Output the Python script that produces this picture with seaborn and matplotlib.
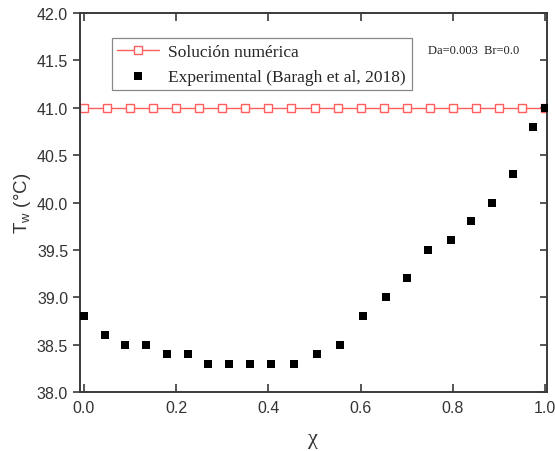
import matplotlib
matplotlib.use("Agg")
import matplotlib.pyplot as plt
import seaborn as sns
import pandas as pd

# Numerical solution along the wall
chi_num = [0.00, 0.05, 0.10, 0.15, 0.20, 0.25, 0.30, 0.35, 0.40, 0.45, 0.50,
           0.55, 0.60, 0.65, 0.70, 0.75, 0.80, 0.85, 0.90, 0.95, 1.00]
tw_num = [41.0] * len(chi_num)

# Experimental wall temperatures (Baragh et al, 2018)
chi_exp = [0.000, 0.045, 0.090, 0.135, 0.180, 0.225, 0.270, 0.315, 0.360, 0.405,
           0.455, 0.505, 0.555, 0.605, 0.655, 0.700, 0.745, 0.795, 0.840, 0.885,
           0.930, 0.973, 1.000]
tw_exp = [38.8, 38.6, 38.5, 38.5, 38.4, 38.4, 38.3, 38.3, 38.3, 38.3,
          38.3, 38.4, 38.5, 38.8, 39.0, 39.2, 39.5, 39.6, 39.8, 40.0,
          40.3, 40.8, 41.0]

x_ticks = [0.0, 0.2, 0.4, 0.6, 0.8, 1.0]
y_ticks = [38.0, 38.5, 39.0, 39.5, 40.0, 40.5, 41.0, 41.5, 42.0]

sns.set_style("ticks")
plt.rcParams["font.family"] = ["Liberation Sans", "DejaVu Sans"]

df_num = pd.DataFrame({"chi": chi_num, "tw": tw_num})
df_exp = pd.DataFrame({"chi": chi_exp, "tw": tw_exp})

fig = plt.figure(figsize=(5.55, 4.52), dpi=100)
ax = fig.add_axes([0.144, 0.1305, 0.8415, 0.8385])

red = "#ff5c5c"
sns.lineplot(data=df_num, x="chi", y="tw", ax=ax, color=red, linewidth=1.0,
             marker="s", markersize=5.4, markerfacecolor="white",
             markeredgecolor=red, markeredgewidth=1.0,
             label="Solución numérica")
sns.scatterplot(data=df_exp, x="chi", y="tw", ax=ax, color="black",
                marker="s", s=36, edgecolor="black", linewidth=0,
                label="Experimental (Baragh et al, 2018)", zorder=3)

ax.set_xlim(-0.0087, 1.004)
ax.set_ylim(38.0, 42.0)
ax.set_xticks(x_ticks)
ax.set_xticklabels([f"{t:.1f}" for t in x_ticks])
ax.set_yticks(y_ticks)
ax.set_yticklabels([f"{t:.1f}" for t in y_ticks])

spine_col = "#3a3a3a"
for s in ax.spines.values():
    s.set_visible(True)
    s.set_color(spine_col)
    s.set_linewidth(1.4)

ax.tick_params(axis="x", direction="in", top=True, bottom=True, length=6,
               width=1.2, color=spine_col, labelsize=11.5, pad=6,
               labelcolor="#333333")
ax.tick_params(axis="y", which="both", left=True, right=False, direction="out",
               length=5, width=1.2, color=spine_col, labelsize=11.5,
               labelcolor="#333333")

# Inward ticks on the right spine
sec = ax.secondary_yaxis("right")
sec.set_yticks(y_ticks)
sec.tick_params(direction="in", length=5, width=1.2, color=spine_col,
                labelright=False)
sec.spines["right"].set_visible(False)

ax.set_xlabel("χ", family=["Liberation Serif", "DejaVu Serif"], fontsize=16,
              labelpad=10, color="#333333")
ax.set_ylabel("T$_\\mathregular{w}$ (°C)", fontsize=13.5, color="#333333",
              labelpad=3)

leg = ax.legend(loc="upper left", bbox_to_anchor=(0.068, 0.934),
                prop={"family": "Liberation Serif", "size": 12.5},
                frameon=True, fancybox=False, framealpha=1,
                edgecolor="#888888", handlelength=2.4, borderpad=0.32,
                labelspacing=0.5, handletextpad=0.55, borderaxespad=0)
leg.get_frame().set_linewidth(0.9)

ax.text(0.745, 0.895, "Da=0.003  Br=0.0", transform=ax.transAxes,
        family="Liberation Serif", fontsize=9, color="#222222")

fig.savefig("out.png", dpi=100)
